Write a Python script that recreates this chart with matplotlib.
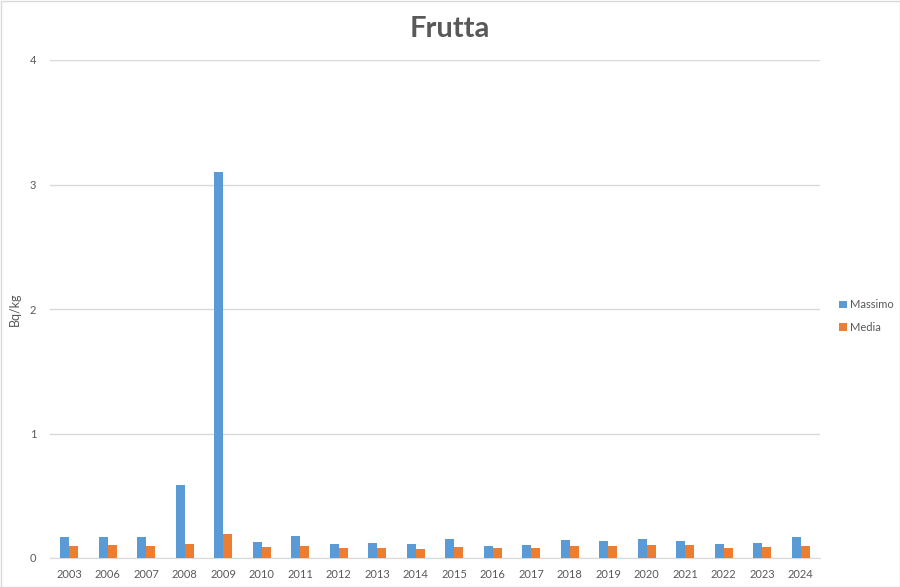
import matplotlib
matplotlib.use("Agg")
import matplotlib.pyplot as plt
import numpy as np
from matplotlib.patches import Rectangle

years = ["2003", "2006", "2007", "2008", "2009", "2010", "2011", "2012", "2013", "2014",
         "2015", "2016", "2017", "2018", "2019", "2020", "2021", "2022", "2023", "2024"]
massimo = [0.171, 0.171, 0.171, 0.583, 3.10, 0.125, 0.177, 0.115, 0.120, 0.109,
           0.153, 0.096, 0.107, 0.145, 0.136, 0.153, 0.139, 0.115, 0.120, 0.169]
media = [0.096, 0.101, 0.096, 0.109, 0.193, 0.091, 0.096, 0.077, 0.083, 0.072,
         0.088, 0.083, 0.083, 0.096, 0.096, 0.101, 0.101, 0.083, 0.088, 0.096]
yticks = [0, 1, 2, 3, 4]

plt.rcParams['font.family'] = ['Lato', 'DejaVu Sans']

fig = plt.figure(figsize=(9, 5.87), dpi=100)
ax = fig.add_axes([50/900, (587-558)/587, 770/900, 498/587])

x = np.arange(len(years))
w = 0.235
ax.bar(x - w/2, massimo, width=w, color="#5B9BD5", label="Massimo", zorder=3)
ax.bar(x + w/2, media, width=w, color="#ED7D31", label="Media", zorder=3)

ax.set_xlim(-0.5, len(years) - 0.5)
ax.set_ylim(0, 4)
ax.set_yticks(yticks)
ax.set_xticks(x)
ax.set_xticklabels(years)
ax.grid(axis="y", color="#D9D9D9", linewidth=1, zorder=0)
for s in ["top", "right", "left"]:
    ax.spines[s].set_visible(False)
ax.spines["bottom"].set_color("#D9D9D9")
ax.tick_params(axis="both", length=0, labelsize=8, colors="#595959", pad=8)
ax.tick_params(axis="y", pad=10)
ax.set_ylabel("Bq/kg", fontsize=9, color="#595959")
ax.yaxis.set_label_coords(-29/770, 0.5)

fig.suptitle("Frutta", x=450/900, y=1 - 29/587, va="center", fontsize=21,
             fontweight="bold", color="#595959")

leg = ax.legend(loc="center left", bbox_to_anchor=((829 - 50)/770, (587 - 316 - 29)/498),
                frameon=False, fontsize=8, labelcolor="#595959", handlelength=0.7,
                handleheight=0.7, handletextpad=0.25, labelspacing=1.0)

fig.patches.append(Rectangle((0.5/900, 0.5/587), 1 - 1/900, 1 - 1/587, transform=fig.transFigure,
                             fill=False, edgecolor="#D9D9D9", linewidth=1))

fig.savefig("out.png", dpi=100)
